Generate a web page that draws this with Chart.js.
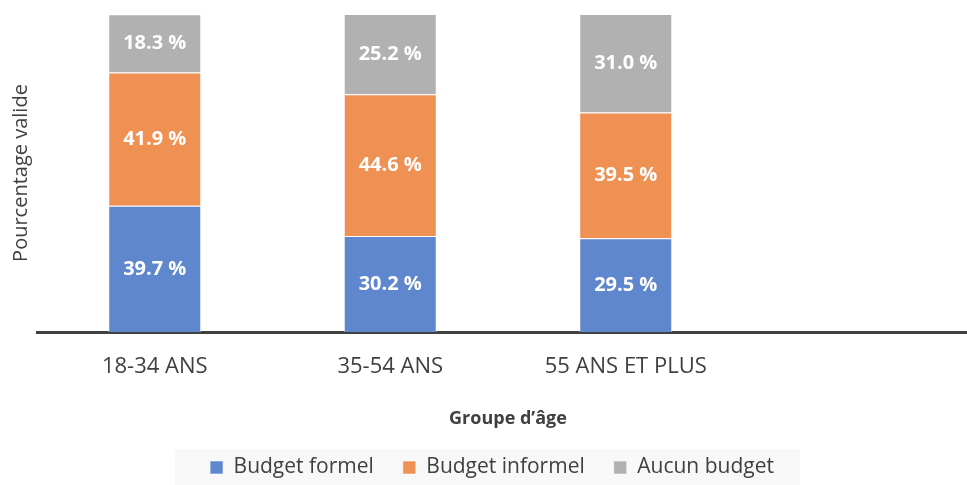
<!DOCTYPE html>
<html>
<head>
<meta charset="utf-8">
<script src="https://cdn.jsdelivr.net/npm/chart.js@4"></script>
<style>
    html, body { margin: 0; padding: 0; background: #fff; overflow: hidden; }
    #wrap { width: 980px; height: 485px; position: relative; }
</style>
</head>
<body>
<div id="wrap"><canvas id="budgetChart"></canvas></div>
<script>
// ====== DONNÉES ======
const categories = ["18-34 ANS", "35-54 ANS", "55 ANS ET PLUS", ""];
const budgetFormel = [39.7, 30.2, 29.5, null];
const budgetInformel = [41.9, 44.6, 39.5, null];
const aucunBudget = [18.3, 25.2, 31.0, null];

const FONT = "'Open Sans', 'DejaVu Sans', sans-serif";

// ====== ÉTIQUETTES DANS LES BARRES ======
const barLabels = {
    id: "barLabels",
    afterDatasetsDraw(chart) {
        const ctx = chart.ctx;
        ctx.save();
        ctx.fillStyle = "#ffffff";
        ctx.font = "bold 20px " + FONT;
        ctx.textAlign = "center";
        ctx.textBaseline = "middle";
        chart.data.datasets.forEach((ds, i) => {
            chart.getDatasetMeta(i).data.forEach((bar, j) => {
                const v = ds.data[j];
                if (v == null) return;
                ctx.fillText(v.toFixed(1) + " %", bar.x, (bar.y + bar.base) / 2);
            });
        });
        ctx.restore();
    }
};

// ====== FOND DE LA LÉGENDE ======
const legendBg = {
    id: "legendBg",
    beforeDraw(chart) {
        const lg = chart.legend;
        if (!lg || !lg.legendHitBoxes.length) return;
        const boxes = lg.legendHitBoxes;
        const first = boxes[0];
        const last = boxes[boxes.length - 1];
        const midY = first.top + first.height / 2;
        const ctx = chart.ctx;
        ctx.save();
        ctx.fillStyle = "#f8f8f8";
        ctx.fillRect(first.left - 35, midY - 18, (last.left + last.width + 26) - (first.left - 35), chart.height - midY + 18);
        ctx.restore();
    }
};

document.addEventListener("DOMContentLoaded", () => {
    new Chart(document.getElementById("budgetChart"), {
        type: "bar",
        data: {
            labels: categories,
            datasets: [
                { label: "Budget formel", data: budgetFormel, backgroundColor: "#5f87cd" },
                { label: "Budget informel", data: budgetInformel, backgroundColor: "#ef9152" },
                { label: "Aucun budget", data: aucunBudget, backgroundColor: "#b1b1b1" }
            ].map(d => Object.assign(d, {
                borderColor: "rgba(255,255,255,0.55)",
                borderWidth: 1,
                categoryPercentage: 1,
                barPercentage: 0.395
            }))
        },
        options: {
            responsive: true,
            maintainAspectRatio: false,
            animation: false,
            layout: { padding: { left: 5, right: 1, top: 14, bottom: -3 } },
            plugins: {
                tooltip: { enabled: false },
                legend: {
                    position: "bottom",
                    labels: {
                        font: { family: FONT, size: 21 },
                        color: "#404040",
                        boxWidth: 13,
                        boxHeight: 13,
                        padding: 29
                    }
                }
            },
            scales: {
                x: {
                    stacked: true,
                    grid: { display: false, drawTicks: false },
                    border: { display: true, color: "#404040", width: 3 },
                    ticks: {
                        font: { family: FONT, size: 22 },
                        color: "#404040",
                        padding: 22
                    },
                    title: {
                        display: true,
                        text: "Groupe d’âge",
                        font: { family: FONT, size: 18, weight: "bold" },
                        color: "#404040",
                        padding: { top: 6, bottom: -2 }
                    }
                },
                y: {
                    stacked: true,
                    min: 0,
                    max: 100,
                    grid: { display: false, drawTicks: false },
                    border: { display: false },
                    ticks: { display: false },
                    title: {
                        display: true,
                        text: "Pourcentage valide",
                        font: { family: FONT, size: 20 },
                        color: "#404040",
                        padding: { top: 4, bottom: 4 }
                    }
                }
            }
        },
        plugins: [legendBg, barLabels]
    });
});
</script>
</body>
</html>
